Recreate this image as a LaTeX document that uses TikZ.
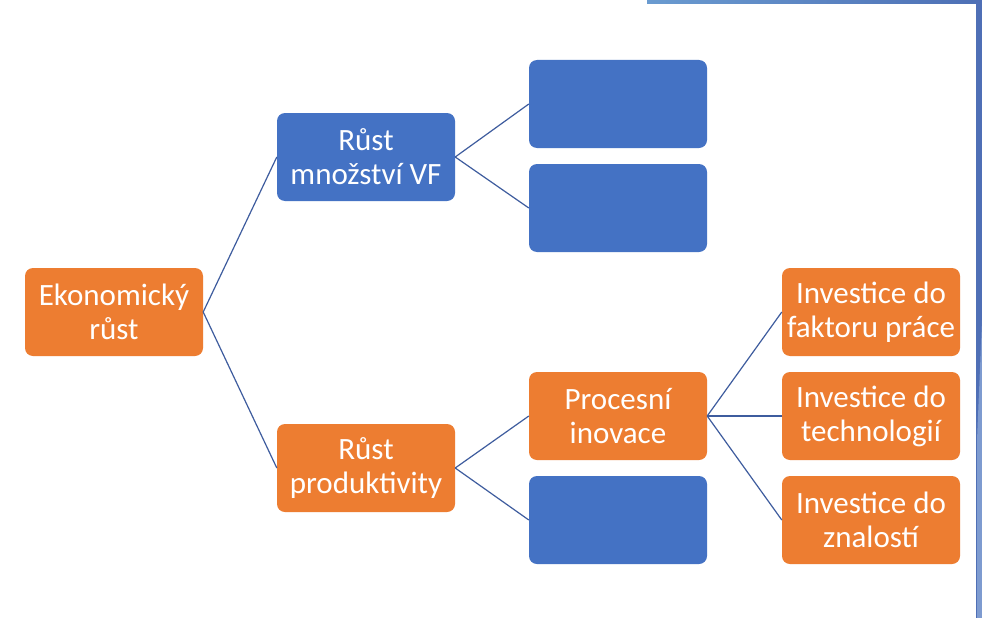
\documentclass[tikz,border=0pt]{standalone}
\usepackage{fontspec}
\setmainfont{Carlito}
\definecolor{boxorange}{HTML}{ED7D31}
\definecolor{boxblue}{HTML}{4472C4}
\definecolor{linkblue}{HTML}{3E5C9E}
\definecolor{bandlight}{HTML}{6A9BD0}
\definecolor{banddark}{HTML}{4D6FB5}
\definecolor{stripdark}{HTML}{4F6FB6}
\definecolor{striplight}{HTML}{7E9BD0}
\tikzset{
  treebox/.style={rounded corners=8pt, minimum width=178pt, minimum height=88pt,
    inner sep=0pt, align=center, text=white,
    font=\fontsize{31pt}{34pt}\selectfont},
  orangebox/.style={treebox, fill=boxorange},
  bluebox/.style={treebox, fill=boxblue},
  link/.style={draw=linkblue, line width=1.2pt}
}
\begin{document}
\begin{tikzpicture}[x=1pt, y=-1pt]
  \useasboundingbox (0,0) rectangle (982,618);
  \fill[white] (0,0) rectangle (982,618);

  % slide frame decoration
  \shade[left color=bandlight, right color=banddark] (647,0) rectangle (982,4);
  \fill[stripdark] (976,0) rectangle (982,618);
  \fill[striplight] (982,320) -- (977,440) -- (977,618) -- (982,618) -- cycle;

  % tree nodes
  \node[orangebox] (root) at (114,312) {Ekonomický\\růst};
  \node[bluebox]   (qty)  at (366,157) {Růst\\množství VF};
  \node[orangebox] (prod) at (366,468) {Růst\\produktivity};
  \node[bluebox]   (q1)   at (618,104) {};
  \node[bluebox]   (q2)   at (618,208) {};
  \node[orangebox] (proc) at (618,416) {Procesní\\inovace};
  \node[bluebox]   (p2)   at (618,520) {};
  \node[orangebox] (i1)   at (871,312) {Investice do\\faktoru práce};
  \node[orangebox] (i2)   at (871,416) {Investice do\\technologií};
  \node[orangebox] (i3)   at (871,520) {Investice do\\znalostí};

  % connectors
  \draw[link] (root.east) -- (qty.west);
  \draw[link] (root.east) -- (prod.west);
  \draw[link] (qty.east) -- (q1.west);
  \draw[link] (qty.east) -- (q2.west);
  \draw[link] (prod.east) -- (proc.west);
  \draw[link] (prod.east) -- (p2.west);
  \draw[link] (proc.east) -- (i1.west);
  \draw[link] (proc.east) -- (i2.west);
  \draw[link] (proc.east) -- (i3.west);
\end{tikzpicture}
\end{document}
